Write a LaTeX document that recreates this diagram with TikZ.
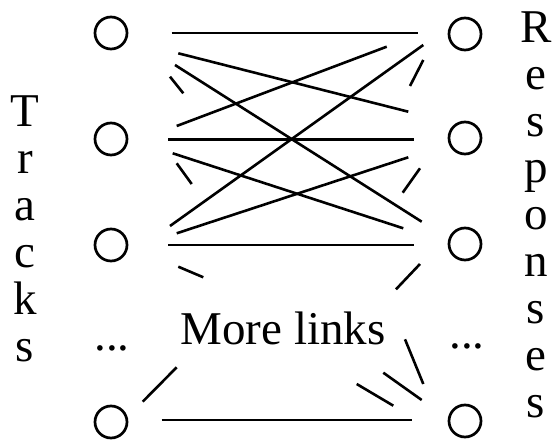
\documentclass[tikz,border=0pt]{standalone}
\usepackage{fontspec}
\setmainfont{Liberation Serif}
\usetikzlibrary{calc}
\tikzset{
  port/.style={circle, draw, line width=2.7pt, minimum size=32pt, inner sep=0pt},
  link/.style={line width=2.6pt},
  lbl/.style={font=\fontsize{47}{47}\selectfont, inner sep=0pt},
  stack/.style={lbl, align=center}
}
\begin{document}
\begin{tikzpicture}[x=1pt,y=-1pt]
\useasboundingbox (0,0) rectangle (552,443);
% ports
\node[port] (L1) at (111,33) {};
\node[port] (L2) at (111,139) {};
\node[port] (L3) at (111,245) {};
\node[port] (Lb) at (111,422) {};
\node[port] (R1) at (465,34) {};
\node[port] (R2) at (465,138) {};
\node[port] (R3) at (465,244) {};
\node[port] (Rb) at (465,421) {};
% dots
\node[lbl, anchor=base] (ld) at (112,351) {...};
\node[lbl, anchor=base] (rd) at (467,349) {...};
% labels
\node[lbl, anchor=base] (more) at (283,345) {More links};
\node[stack, anchor=base] (tracks) at (25,362) {T\\r\\a\\c\\k\\s};
\node[stack, anchor=base] (resp) at (536,418) {R\\e\\s\\p\\o\\n\\s\\e\\s};
% links
\draw[link] ($(L1)+(60.7,0)$) -- ($(R1)+(-46.7,-1)$);
\draw[link] ($(L1)+(67.3,20.3)$) -- ($(R2)+(-56.7,-26.3)$);
\draw[link] ($(L1)+(64,32)$) -- ($(R3)+(-43.3,-22.3)$);
\draw[link] ($(L1)+(59,43.7)$) -- ($(L1)+(72.3,60.3)$);
\draw[link] ($(L2)+(65.7,-13)$) -- ($(R1)+(-78.3,12.7)$);
\draw[link] ($(L3)+(59,-19)$) -- ($(R1)+(-41.7,11)$);
\draw[link] ($(R1)+(-41.7,26)$) -- ($(R1)+(-55,52)$);
\draw[link] ($(L2)+(57.3,0.3)$) -- ($(R2)+(-50.7,1.3)$);
\draw[link] ($(L2)+(61.7,14.3)$) -- ($(R3)+(-61.7,-15.7)$);
\draw[link] ($(L2)+(65.7,24.3)$) -- ($(L2)+(80.7,45)$);
\draw[link] ($(L3)+(65.7,-11.7)$) -- ($(R2)+(-56.7,19.3)$);
\draw[link] ($(R2)+(-45,30.3)$) -- ($(R2)+(-62.3,54.7)$);
\draw[link] ($(L3)+(57.3,0)$) -- ($(R3)+(-50.7,1)$);
\draw[link] ($(L3)+(67.3,21.7)$) -- ($(L3)+(92.3,32.3)$);
\draw[link] ($(R3)+(-45,20)$) -- ($(R3)+(-69,45.3)$);
\draw[link] ($(Lb)+(65.7,-54.7)$) -- ($(Lb)+(31.7,-20.3)$);
\draw[link] ($(Rb)+(-60,-81.7)$) -- ($(Rb)+(-41.7,-37)$);
\draw[link] ($(Rb)+(-81.7,-48.3)$) -- ($(Rb)+(-43.3,-21)$);
\draw[link] ($(Rb)+(-108.3,-37)$) -- ($(Rb)+(-71.7,-15.3)$);
\draw[link] ($(Lb)+(50.7,-2)$) -- ($(Rb)+(-53.3,-1)$);
\end{tikzpicture}
\end{document}
